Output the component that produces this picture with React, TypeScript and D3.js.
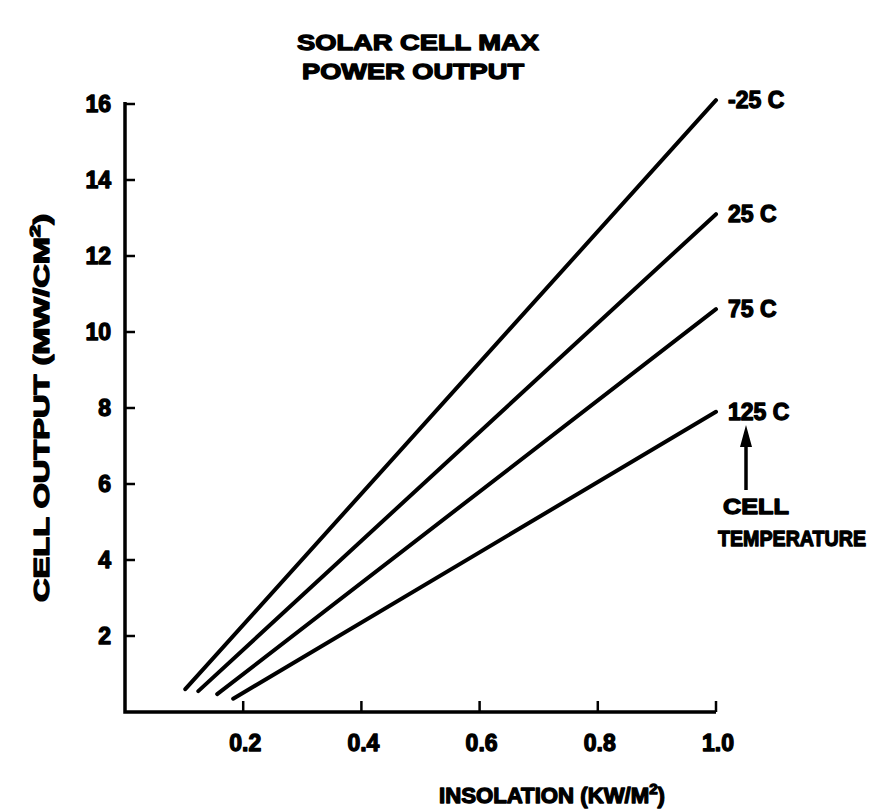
import React from "react";
import * as d3 from "d3";

const seriesNames = ["-25 C", "25 C", "75 C", "125 C"];
const startX = [0.102, 0.124, 0.156, 0.183];
const startY = [0.6, 0.55, 0.47, 0.35];
const endX = [1.0, 1.0, 1.0, 1.0];
const endY = [16.1, 13.1, 10.6, 7.9];
const xTicks = [0.2, 0.4, 0.6, 0.8, 1.0];
const yTicks = [2, 4, 6, 8, 10, 12, 14, 16];

const W = 885;
const H = 812;
const FONT = "'Liberation Sans', Arial, sans-serif";

export default function App() {
  const x = d3.scaleLinear().domain([0, 1.0]).range([125, 716]);
  const y = d3.scaleLinear().domain([0, 16]).range([712, 104]);
  const line = d3
    .line<[number, number]>()
    .x((d) => x(d[0]))
    .y((d) => y(d[1]));

  const txt = {
    fontFamily: FONT,
    fontWeight: 700,
    fill: "#000",
    stroke: "#000",
    strokeWidth: 1.3,
    strokeLinejoin: "round",
  } as React.CSSProperties;

  return (
    <svg
      width={W}
      height={H}
      style={{ position: "absolute", left: 0, top: 0, background: "#fff" }}
    >
      <rect x={0} y={0} width={W} height={H} fill="#fff" />
      {/* title */}
      <text x={418} y={50} textAnchor="middle" fontSize={22} style={txt} textLength={242} lengthAdjust="spacingAndGlyphs">
        SOLAR CELL MAX
      </text>
      <text x={413} y={79} textAnchor="middle" fontSize={22} style={txt} textLength={222} lengthAdjust="spacingAndGlyphs">
        POWER OUTPUT
      </text>

      {/* axes */}
      <path
        d={`M${x(0)},${y(16) - 2} L${x(0)},${y(0)} L${x(1.0)},${y(0)}`}
        fill="none"
        stroke="#000"
        strokeWidth={3.5}
      />
      {yTicks.map((t) => (
        <g key={"yt" + t}>
          <line x1={x(0)} x2={x(0) + 10} y1={y(t)} y2={y(t)} stroke="#000" strokeWidth={2.5} />
          <text x={111} y={y(t) + 8} textAnchor="end" fontSize={23} style={txt}>
            {t}
          </text>
        </g>
      ))}
      {xTicks.map((t) => (
        <g key={"xt" + t}>
          <line x1={x(t)} x2={x(t)} y1={y(0)} y2={y(0) - 11} stroke="#000" strokeWidth={2.5} />
          <text x={x(t) + 2} y={751} textAnchor="middle" fontSize={23} style={txt}>
            {t.toFixed(1)}
          </text>
        </g>
      ))}

      {/* axis labels */}
      <text x={552} y={803} textAnchor="middle" fontSize={22} style={txt} textLength={226} lengthAdjust="spacingAndGlyphs">
        INSOLATION (KW/M<tspan fontSize={15} dy={-9}>2</tspan>
        <tspan dy={9}>)</tspan>
      </text>
      <text
        transform={`translate(49,${408}) rotate(-90)`}
        textAnchor="middle"
        fontSize={22}
        style={txt}
        textLength={388}
        lengthAdjust="spacingAndGlyphs"
      >
        CELL OUTPUT (MW/CM<tspan fontSize={15} dy={-9}>2</tspan>
        <tspan dy={9}>)</tspan>
      </text>

      {/* series */}
      {seriesNames.map((name, i) => (
        <g key={name}>
          <path
            d={line([
              [startX[i], startY[i]],
              [endX[i], endY[i]],
            ]) || ""}
            fill="none"
            stroke="#000"
            strokeWidth={4}
            strokeLinecap="round"
          />
          <text x={x(endX[i]) + 12} y={y(endY[i]) + 8} fontSize={23} style={txt}>
            {name}
          </text>
        </g>
      ))}

      {/* cell temperature arrow */}
      <line x1={746} x2={746} y1={490} y2={440} stroke="#000" strokeWidth={3.5} />
      <path d="M746,425 L740,447 L752,447 Z" fill="#000" />
      <text x={756} y={514} textAnchor="middle" fontSize={22} style={txt} textLength={66} lengthAdjust="spacingAndGlyphs">
        CELL
      </text>
      <text x={792} y={546} textAnchor="middle" fontSize={22} style={txt} textLength={148} lengthAdjust="spacingAndGlyphs">
        TEMPERATURE
      </text>
    </svg>
  );
}
